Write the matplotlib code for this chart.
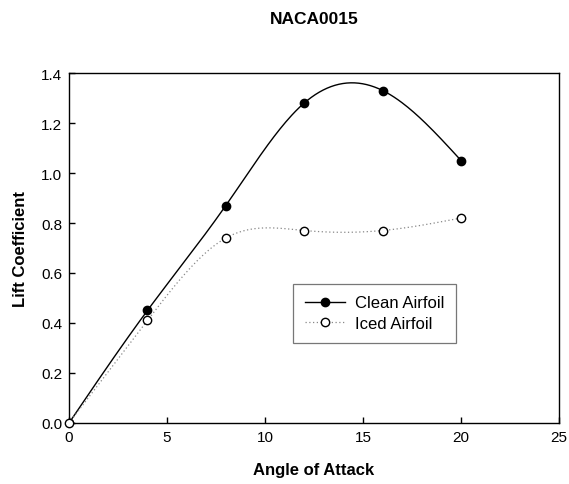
import matplotlib
matplotlib.use("Agg")
import matplotlib.pyplot as plt
import numpy as np

# data
angle = [0, 4, 8, 12, 16, 20]
clean_cl = [0.0, 0.45, 0.87, 1.28, 1.33, 1.05]
iced_cl = [0.0, 0.41, 0.74, 0.77, 0.77, 0.82]

x_ticks = [0, 5, 10, 15, 20, 25]
y_ticks = [0.0, 0.2, 0.4, 0.6, 0.8, 1.0, 1.2, 1.4]


def natural_spline(x, y, n=200):
    """Natural cubic spline through the points, just for drawing a smooth line"""
    x = np.asarray(x, float)
    y = np.asarray(y, float)
    k = len(x)
    h = np.diff(x)
    A = np.zeros((k, k))
    b = np.zeros(k)
    A[0, 0] = A[-1, -1] = 1.0
    for i in range(1, k - 1):
        A[i, i - 1] = h[i - 1]
        A[i, i] = 2 * (h[i - 1] + h[i])
        A[i, i + 1] = h[i]
        b[i] = 6 * ((y[i + 1] - y[i]) / h[i] - (y[i] - y[i - 1]) / h[i - 1])
    m = np.linalg.solve(A, b)
    xs = np.linspace(x[0], x[-1], n)
    idx = np.clip(np.searchsorted(x, xs) - 1, 0, k - 2)
    x0, x1 = x[idx], x[idx + 1]
    hh = x1 - x0
    t0, t1 = x1 - xs, xs - x0
    ys = (m[idx] * t0 ** 3 + m[idx + 1] * t1 ** 3) / (6 * hh) \
        + (y[idx] / hh - m[idx] * hh / 6) * t0 \
        + (y[idx + 1] / hh - m[idx + 1] * hh / 6) * t1
    return xs, ys


plt.rcParams['font.family'] = ['Liberation Sans', 'DejaVu Sans']

fig = plt.figure(figsize=(5.69, 4.85), dpi=100)
ax = fig.add_axes([0.1213, 0.1258, 0.8612, 0.7216])

xs, ys = natural_spline(angle, clean_cl)
ax.plot(xs, ys, color='black', lw=1.0, zorder=2)
xs, ys = natural_spline(angle, iced_cl)
ax.plot(xs, ys, color='#888888', lw=0.9, ls=(0, (1, 2)), zorder=2)

ax.plot(angle, clean_cl, ls='none', marker='o', ms=6, mfc='black', mec='black', zorder=3)
ax.plot(angle, iced_cl, ls='none', marker='o', ms=6, mfc='white', mec='black', mew=1.0, zorder=3,
        clip_on=False)

# legend proxies
h1, = ax.plot([], [], color='black', lw=1.0, marker='o', ms=6, mfc='black', mec='black')
h2, = ax.plot([], [], color='#888888', lw=0.9, ls=(0, (1, 2)), marker='o', ms=6,
              mfc='white', mec='black')
leg = ax.legend([h1, h2], ['Clean Airfoil', 'Iced Airfoil'], loc='lower left',
                bbox_to_anchor=(0.457, 0.229), fontsize=12, frameon=True, fancybox=False,
                borderpad=0.7, handlelength=2.4, handletextpad=0.6, labelspacing=0.35,
                borderaxespad=0)
leg.get_frame().set_edgecolor('#555555')
leg.get_frame().set_linewidth(0.9)

ax.set_xlim(0, 25)
ax.set_ylim(0, 1.4)
ax.set_xticks(x_ticks)
ax.set_yticks(y_ticks)
ax.set_yticklabels([f"{v:.1f}" for v in y_ticks])
ax.tick_params(direction='in', length=4, width=1, labelsize=11, pad=5)
for s in ax.spines.values():
    s.set_linewidth(1.0)

ax.set_xlabel('Angle of Attack', fontsize=12, fontweight='bold', labelpad=13)
ax.set_ylabel('Lift Coefficient', fontsize=12, fontweight='bold', labelpad=9)
fig.suptitle('NACA0015', fontsize=12.5, fontweight='bold', x=0.552, y=0.975)

fig.savefig('out.png', dpi=100)
